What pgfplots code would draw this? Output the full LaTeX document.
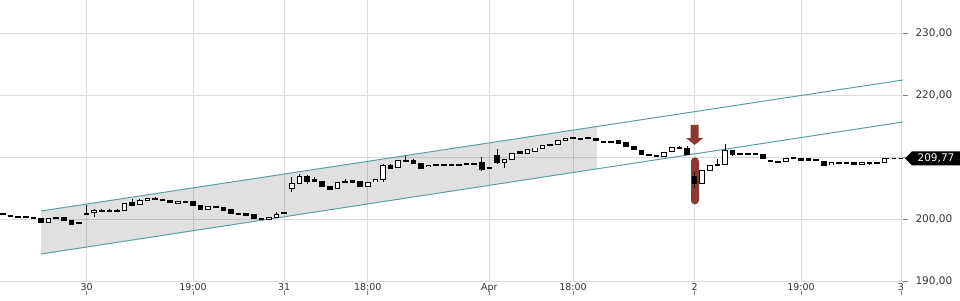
\documentclass[border=0pt]{standalone}
\usepackage{pgfplots}
\usepackage{pgfplotstable}
\pgfplotsset{compat=1.18}
\usepackage{fontspec}
\setmainfont{DejaVu Sans}
\definecolor{gridc}{HTML}{DCDCDC}
\definecolor{tealc}{HTML}{5C9EA5}
\definecolor{redm}{RGB}{140,56,48}
\definecolor{lbl}{HTML}{333333}
\newcommand\xl[1]{\begin{tabular}{@{}c@{}}#1\\[-7pt]\textcolor{gray}{\rule{0.8pt}{4pt}}\end{tabular}}

\pgfplotstableread{
i o h l c
0 200.80 200.95 200.70 200.72
1 200.55 200.70 200.45 200.53
2 200.45 200.45 200.30 200.30
3 200.38 200.40 200.25 200.28
4 200.30 200.30 200.10 200.12
5 200.10 200.10 199.50 199.50
6 199.50 200.05 199.50 200.05
7 200.12 200.30 200.05 200.10
8 200.20 200.20 199.70 199.70
9 199.70 199.70 199.15 199.15
10 199.30 199.30 199.25 199.28
11 200.85 202.20 200.75 200.80
12 201.00 201.60 200.30 201.45
13 201.45 201.55 201.10 201.20
14 201.35 201.60 201.33 201.33
15 201.30 201.55 201.28 201.28
16 201.30 202.50 201.30 202.50
17 202.70 203.30 202.20 202.20
18 202.35 203.15 202.35 203.05
19 203.00 203.30 202.85 203.30
20 203.30 203.50 203.28 203.28
21 203.20 203.20 203.05 203.05
22 203.05 203.05 202.60 202.60
23 202.55 202.85 202.55 202.85
24 202.80 202.80 202.65 202.75
25 202.85 202.85 202.10 202.20
26 202.15 202.15 201.55 201.55
27 201.55 201.95 201.55 201.95
28 201.95 202.05 201.70 201.80
29 201.90 201.90 201.35 201.35
30 201.50 201.50 200.90 200.90
31 200.80 200.95 200.78 200.78
32 200.90 200.90 200.50 200.50
33 200.65 200.65 200.05 200.05
34 200.10 200.20 200.00 200.00
35 199.95 200.30 199.95 200.30
36 200.30 201.10 200.30 200.75
37 200.90 200.90 200.88 200.88
38 204.85 206.70 204.30 205.75
39 205.80 207.20 205.75 206.90
40 206.80 207.10 205.60 206.00
41 206.40 206.70 206.00 206.00
42 206.10 206.10 205.30 205.30
43 205.30 205.30 204.60 204.80
44 204.85 205.90 204.85 205.90
45 206.00 206.50 205.98 205.98
46 206.20 206.30 205.80 205.90
47 206.00 206.00 205.30 205.30
48 205.30 205.90 205.30 205.90
49 206.00 206.35 206.00 206.35
50 206.30 208.85 206.00 208.55
51 208.60 208.95 208.00 208.20
52 208.35 209.40 208.35 209.40
53 209.40 210.20 209.38 209.38
54 209.40 209.70 208.90 208.90
55 208.90 208.90 208.20 208.20
56 208.40 208.70 208.40 208.70
57 208.65 208.65 208.63 208.63
58 208.65 208.80 208.63 208.63
59 208.85 208.85 208.60 208.60
60 208.80 208.90 208.70 208.78
61 208.90 208.90 208.88 208.88
62 208.90 209.00 208.80 208.88
63 209.10 209.95 207.80 208.05
64 208.20 208.20 208.18 208.18
65 210.30 211.30 208.90 209.15
66 209.10 209.60 208.30 209.60
67 209.60 210.60 209.60 210.60
68 210.85 210.85 210.55 210.55
69 210.55 211.20 210.55 211.20
70 210.95 211.45 210.95 211.45
71 211.35 211.90 211.35 211.90
72 211.90 212.10 211.88 211.88
73 211.95 212.60 211.95 212.60
74 212.70 213.00 212.70 213.00
75 213.00 213.30 212.98 212.98
76 212.85 212.95 212.75 212.83
77 213.00 213.10 212.98 212.98
78 213.00 213.00 212.60 212.60
79 212.45 212.45 212.43 212.43
80 212.45 212.60 212.43 212.43
81 212.60 212.60 212.15 212.15
82 212.35 212.35 211.65 211.65
83 211.70 211.70 211.20 211.20
84 211.10 211.10 210.45 210.45
85 210.30 210.40 210.20 210.28
86 210.25 210.25 210.23 210.23
87 210.10 210.75 210.10 210.75
88 210.85 211.55 210.85 211.55
89 211.60 211.70 211.30 211.40
90 211.40 211.70 210.45 210.45
91 206.80 207.60 205.05 205.75
92 205.80 207.85 205.80 207.85
93 207.90 208.70 207.90 208.70
94 208.80 209.70 208.78 208.78
95 208.80 212.10 208.80 211.10
96 211.10 211.10 210.20 210.40
97 210.45 210.60 210.30 210.43
98 210.45 210.60 210.30 210.43
99 210.45 210.60 210.30 210.43
100 210.40 210.40 209.70 209.70
101 209.40 209.40 209.38 209.38
102 209.15 209.25 209.05 209.13
103 209.25 209.70 209.25 209.70
104 209.80 209.95 209.78 209.78
105 209.70 209.70 209.50 209.50
106 209.75 209.75 209.45 209.50
107 209.50 209.50 209.48 209.48
108 209.35 209.35 208.60 208.60
109 208.75 209.10 208.75 209.10
110 209.00 209.00 208.98 208.98
111 209.00 209.00 208.98 208.98
112 209.10 209.10 208.85 208.85
113 208.85 209.10 208.85 209.10
114 209.05 209.05 208.85 208.90
115 209.00 209.10 208.98 208.98
116 209.10 209.77 209.10 209.77
}\candles

\begin{document}
\begin{tikzpicture}
\begin{axis}[
  scale only axis, width=903pt, height=281pt,
  xmin=-0.395, xmax=118.42, ymin=190, ymax=235.32,
  clip=false,
  axis line style={draw=none},
  grid=major,
  major grid style={gridc, line width=0.8pt},
  xtick={11,25,37,48,64,75,91,105,118.15},
  xticklabels={\xl{30},\xl{19:00},\xl{31},\xl{18:00},\xl{Apr},\xl{18:00},\xl{2},\xl{19:00},\xl{3}},
  xtick style={draw=none},
  xticklabel style={font=\fontsize{9.5}{11}\selectfont, text=lbl, inner sep=0pt, anchor=north, yshift=3pt},
  ytick={190,200,210,220,230},
  yticklabels={{190,00},{200,00},{},{220,00},{230,00}},
  ytick pos=right, yticklabel pos=right,
  ytick style={draw=gray, line width=0.8pt},
  tick align=outside, major tick length=5pt,
  yticklabel style={font=\fontsize{10.5}{12}\selectfont, text=lbl, xshift=4pt},
]
\addplot[draw=none, fill=black, fill opacity=0.12] coordinates {(5,201.29) (78.16,214.92) (78.16,208.09) (5,194.35)} -- cycle;
\addplot[tealc, line width=1pt] coordinates {(5,201.29) (118.42,222.42)};
\addplot[tealc, line width=1pt] coordinates {(5,194.35) (118.42,215.65)};
\addplot[redm, line width=8pt, line cap=round] coordinates {(91,203.0) (91,209.3)};
\addplot[fill=redm, draw=none] coordinates {(90.47,215.16) (91.53,215.16) (91.53,213.06) (92.12,213.06) (91,211.94) (89.88,213.06) (90.47,213.06)} -- cycle;
\addplot[black, line width=1pt, dash pattern=on 4pt off 3pt] coordinates {(116,209.77) (118.42,209.77)};
% wicks
\addplot[draw=none, mark=none, error bars/.cd, y dir=both, y explicit, error mark=none,
  error bar style={draw=black, line width=1pt}]
  table[x=i, y expr={(\thisrow{h}+\thisrow{l})/2}, y error expr={(\thisrow{h}-\thisrow{l})/2}] {\candles};
% body outline
\addplot[draw=none, mark=none, error bars/.cd, y dir=both, y explicit, error mark=none,
  error bar style={draw=black, line width=5.5pt}]
  table[x=i, y expr={(\thisrow{o}+\thisrow{c})/2}, y error expr={max(abs(\thisrow{c}-\thisrow{o})/2+0.08,0.16)}] {\candles};
% hollow interior
\addplot[draw=none, mark=none, error bars/.cd, y dir=both, y explicit, error mark=none,
  error bar style={draw=white, line width=3.5pt}]
  table[x=i, y expr={(\thisrow{o}+\thisrow{c})/2}, y error expr={ifthenelse(\thisrow{c}>\thisrow{o}, max(abs(\thisrow{c}-\thisrow{o})/2-0.08,0), 0)}] {\candles};
\coordinate (tag) at (axis cs:118.42,209.77);
\end{axis}
\fill[black] (tag) ++(2pt,0) -- ++(7pt,7pt) -- ++(48pt,0) -- ++(0,-14pt) -- ++(-48pt,0) -- cycle;
\node[text=white, font=\fontsize{10.5}{12}\selectfont, anchor=center] at ([xshift=33pt]tag) {209,77};
\pgfresetboundingbox
\path[use as bounding box] ([yshift=-19pt]current axis.south west) rectangle ([xshift=960pt]current axis.north west);
\end{tikzpicture}
\end{document}
